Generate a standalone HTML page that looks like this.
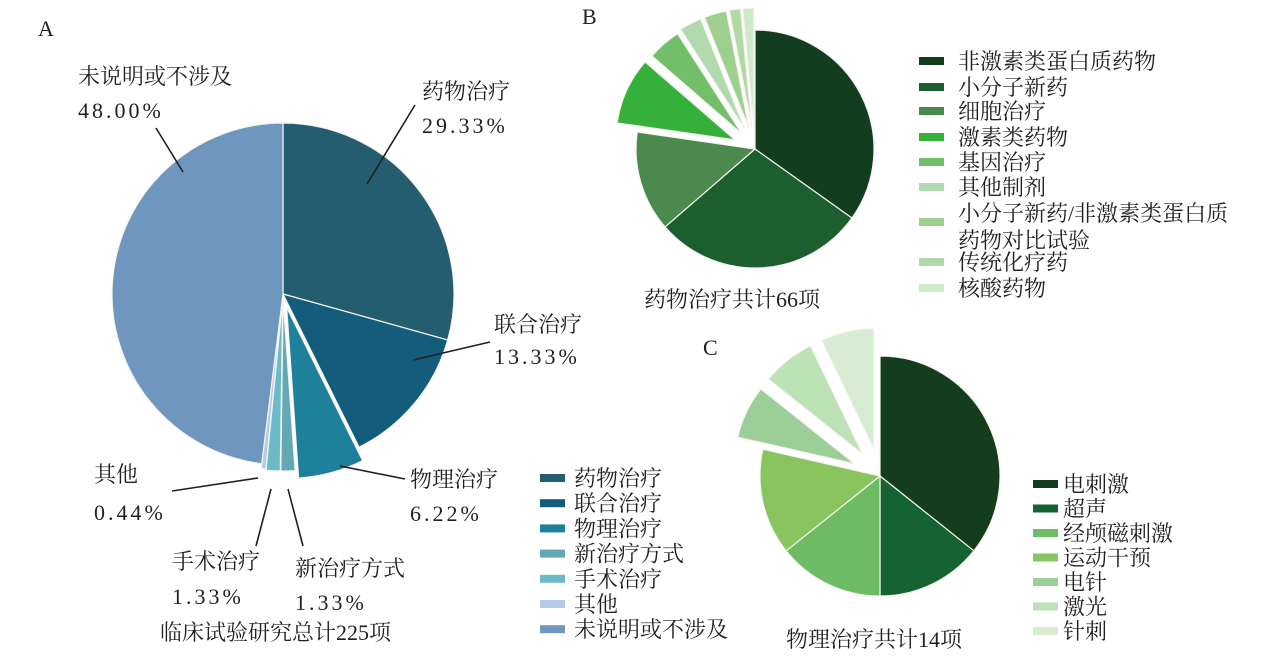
<!DOCTYPE html>
<html><head><meta charset="utf-8"><style>
html,body{margin:0;padding:0;background:#fff;}
svg{display:block;}
text{font-family:"Liberation Serif","Noto Serif CJK SC",serif;fill:#231f20;font-size:22px;}
</style></head><body>
<svg id="s" width="1268" height="659" viewBox="0 0 1268 659" xmlns="http://www.w3.org/2000/svg">
<g id="pies"></g>
<text x="38" y="36" font-size="19">A</text>
<text x="582" y="24" font-size="19">B</text>
<text x="703" y="355" font-size="19">C</text>
<g stroke="#231f20" stroke-width="1.6" fill="none">
<line x1="415" y1="105" x2="367" y2="184"/>
<line x1="156" y1="128" x2="183" y2="172"/>
<line x1="490" y1="342" x2="413" y2="360"/>
<line x1="405" y1="479" x2="340" y2="466"/>
<line x1="172" y1="491" x2="258" y2="478"/>
<line x1="256" y1="546" x2="271" y2="489"/>
<line x1="303" y1="546" x2="288" y2="489"/>
</g>
<text x="422" y="99">药物治疗</text>
<text x="422" y="133" letter-spacing="3">29.33%</text>
<text x="78" y="84">未说明或不涉及</text>
<text x="78" y="118" letter-spacing="3">48.00%</text>
<text x="494" y="332">联合治疗</text>
<text x="494" y="364" letter-spacing="3">13.33%</text>
<text x="410" y="487">物理治疗</text>
<text x="410" y="521" letter-spacing="3">6.22%</text>
<text x="94" y="482">其他</text>
<text x="94" y="520" letter-spacing="3">0.44%</text>
<text x="172" y="569">手术治疗</text>
<text x="172" y="604" letter-spacing="3">1.33%</text>
<text x="295" y="576">新治疗方式</text>
<text x="295" y="610" letter-spacing="3">1.33%</text>
<text x="160" y="640">临床试验研究总计225项</text>
<text x="644" y="307">药物治疗共计66项</text>
<text x="786" y="647">物理治疗共计14项</text>
<g id="legA"></g><g id="legB"></g><g id="legC"></g>
</svg>
<script>
var NS="http://www.w3.org/2000/svg";
function el(tag,attrs,txt){var e=document.createElementNS(NS,tag);for(var k in attrs)e.setAttribute(k,attrs[k]);if(txt)e.textContent=txt;return e;}
function pie(g,cx,cy,r,vals,cols,exp){
 var tot=vals.reduce(function(a,b){return a+b},0),a=0;
 for(var i=0;i<vals.length;i++){
  var a0=a/tot*2*Math.PI,a1=(a+vals[i])/tot*2*Math.PI;a+=vals[i];
  var m=(a0+a1)/2,dx=exp[i]*Math.sin(m),dy=-exp[i]*Math.cos(m);
  var x=cx+dx,y=cy+dy;
  var p="M"+x+","+y+" L"+(x+r*Math.sin(a0))+","+(y-r*Math.cos(a0))+" A"+r+","+r+" 0 "+((a1-a0)>Math.PI?1:0)+" 1 "+(x+r*Math.sin(a1))+","+(y-r*Math.cos(a1))+" Z";
  g.appendChild(el("path",{d:p,fill:cols[i],stroke:"#f4f4ee","stroke-width":"1.2"}));
 }
}
var g=document.getElementById("pies");
var cA=["#255d70","#145c7c","#1e819c","#62a9b5","#6bbac8","#b4cbe8","#6f96be"];
pie(g,283,294,171,[29.33,13.33,6.22,1.33,1.33,0.44,48],cA,[0,0,14,6,6,5,0]);
var cB=["#133d1f","#1d5e30","#4a8a4c","#35b038","#72bf6a","#b1dbae","#9dd08f","#b0d9a6","#cfe9cb"];
pie(g,755,149,119,[23,19,9,6,3,2,2,1,1],cB,[0,0,0,22,20,22,22,22,22]);
var cC=["#143d1e","#156332","#6dbb64","#8ac45f","#9ccf98","#bde2b6","#d7ecd3"];
pie(g,880,476,120,[5,2,2,2,1,1,1],cC,[0,0,0,0,28,28,28]);
function leg(id,x,tx,items){var G=document.getElementById(id);items.forEach(function(it){
 G.appendChild(el("rect",{x:x,y:it[2]-4,width:25,height:8,fill:it[1]}));
 it[0].split("|").forEach(function(t,j){G.appendChild(el("text",{x:tx,y:it[3]+j*27},t));});
});}
var nA=["药物治疗","联合治疗","物理治疗","新治疗方式","手术治疗","其他","未说明或不涉及"];
leg("legA",540,574,nA.map(function(n,i){var y=478+i*25.2;return [n,cA[i],y,y+8];}));
var nB=["非激素类蛋白质药物","小分子新药","细胞治疗","激素类药物","基因治疗","其他制剂","小分子新药/非激素类蛋白质|药物对比试验","传统化疗药","核酸药物"];
var yB=[61,87,111,137,162,187,222,262,288];
leg("legB",919,958,nB.map(function(n,i){var ty=i==6?221:yB[i]+8;return [n,cB[i],yB[i],ty];}));
var nC=["电刺激","超声","经颅磁刺激","运动干预","电针","激光","针刺"];
leg("legC",1033,1063,nC.map(function(n,i){var y=484+i*24.5;return [n,cC[i],y,y+8];}));
</script>
</body></html>
